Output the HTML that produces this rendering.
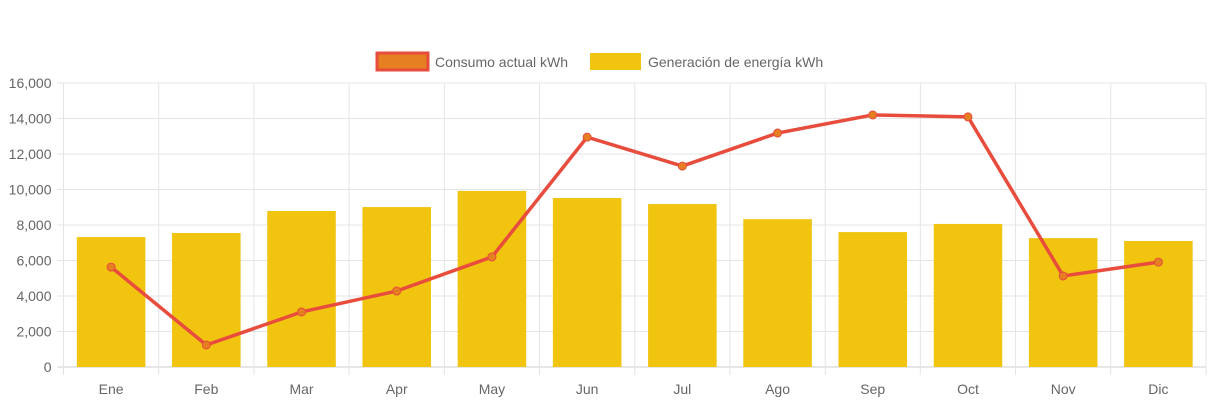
<!DOCTYPE html>
<html><head><meta charset="utf-8"><style>
body{margin:0;background:#fff;font-family:"Liberation Sans",sans-serif;}
svg text{font-family:"Liberation Sans",sans-serif;fill:#666;font-size:14px;}
</style></head><body>
<svg id="c" width="1213" height="403">
<g>
<g>
<rect x="377" y="53" width="51" height="17" fill="#e67e22" stroke="#e74c3c" stroke-width="3"/>
<text x="435" y="67">Consumo actual kWh</text></g>
<g>
<rect x="590" y="53" width="51" height="17" fill="#f1c40f"/>
<text x="648" y="67">Generación de energía kWh</text></g>
</g>
</svg>
<script>
const categories=["Ene","Feb","Mar","Apr","May","Jun","Jul","Ago","Sep","Oct","Nov","Dic"];
const generacion=[7320,7550,8790,9010,9920,9520,9180,8330,7600,8060,7260,7100];
const consumo=[5630,1240,3100,4280,6200,12950,11320,13180,14200,14090,5130,5910];
const yTicks=[0,2000,4000,6000,8000,10000,12000,14000,16000];
const NS="http://www.w3.org/2000/svg";
const svg=document.getElementById('c');
const L=63.5,R=1206,T=83,B=367,yMax=16000;
const bw=(R-L)/categories.length;
const y=v=>B-(v/yMax)*(B-T);
const xc=i=>L+bw*(i+0.5);
function mk(t,a){const e=document.createElementNS(NS,t);for(const k in a)e.setAttribute(k,a[k]);svg.appendChild(e);return e;}
yTicks.forEach(v=>{
const l=mk('line',{x1:L-6,x2:R,y1:y(v),y2:y(v),stroke:v===0?'#ccc':'#e4e4e4'});


const t=mk('text',{x:L-12,y:y(v)+5,'text-anchor':'end'});t.textContent=v.toLocaleString('en-US');


});
for(let i=0;i<=categories.length;i++){
const x=L+bw*i;
const l=mk('line',{x1:x,x2:x,y1:T,y2:B+8,stroke:'#e4e4e4'});


}
categories.forEach((c,i)=>{
const t=mk('text',{x:xc(i),y:394,'text-anchor':'middle'});t.textContent=c;


const w=bw*0.72;
const r=mk('rect',{x:xc(i)-w/2,y:y(generacion[i]),width:w,height:B-y(generacion[i]),fill:'#f1c40f'});


});
const p=mk('polyline',{points:consumo.map((v,i)=>xc(i)+','+y(v)).join(' '),fill:'none',stroke:'#e74c3c','stroke-width':3.5,'stroke-linejoin':'round'});


consumo.forEach((v,i)=>{
const c=mk('circle',{cx:xc(i),cy:y(v),r:4,fill:'#e67e22',stroke:'#e74c3c','stroke-width':1});


});
</script>
</body></html>
